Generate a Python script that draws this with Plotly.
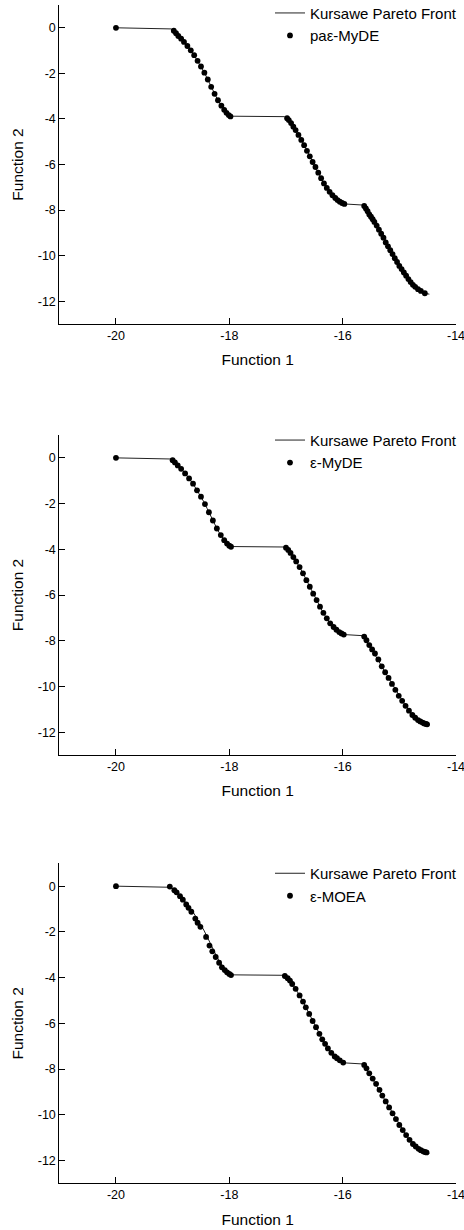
import plotly.graph_objects as go

# Kursawe Pareto front
front_x = [-20.0, -19.02, -18.99, -18.92, -18.85, -18.78, -18.71, -18.64, -18.58, -18.51, -18.45,
           -18.39, -18.33, -18.27, -18.21, -18.15, -18.10, -18.04, -17.97,
           -17.03, -16.98, -16.94, -16.89, -16.83, -16.77, -16.71, -16.65, -16.59, -16.54,
           -16.48, -16.42, -16.36, -16.30, -16.24, -16.18, -16.12, -16.05, -15.98,
           -15.64, -15.59, -15.54, -15.48, -15.42, -15.36, -15.31, -15.25, -15.19, -15.13,
           -15.07, -15.02, -14.96, -14.90, -14.84, -14.77, -14.69, -14.62, -14.54, -14.47]
front_y = [0.0, -0.05, -0.16, -0.30, -0.48, -0.68, -0.90, -1.13, -1.38, -1.65, -1.92,
           -2.22, -2.54, -2.85, -3.14, -3.38, -3.58, -3.76, -3.88,
           -3.90, -3.98, -4.08, -4.27, -4.49, -4.74, -5.00, -5.30, -5.59, -5.85,
           -6.11, -6.41, -6.70, -6.95, -7.17, -7.35, -7.50, -7.64, -7.73,
           -7.78, -7.95, -8.16, -8.38, -8.60, -8.86, -9.12, -9.38, -9.63, -9.89,
           -10.15, -10.37, -10.59, -10.81, -11.03, -11.25, -11.44, -11.56, -11.66, -11.69]

# pa-eps-MyDE solutions
pa_x = [-20.0,
        -18.98, -18.94, -18.90, -18.85, -18.80, -18.74, -18.68, -18.62, -18.56, -18.50,
        -18.44, -18.38, -18.32, -18.26, -18.20, -18.14, -18.09, -18.05, -18.01, -17.98,
        -16.98, -16.95, -16.91, -16.87, -16.83, -16.78, -16.73, -16.68, -16.63, -16.58,
        -16.53, -16.48, -16.43, -16.38, -16.33, -16.28, -16.23, -16.18, -16.13, -16.09,
        -16.05, -16.01, -15.97,
        -15.62, -15.59, -15.56, -15.53, -15.50, -15.47, -15.44, -15.40, -15.36, -15.32,
        -15.28, -15.24, -15.20, -15.16, -15.12, -15.08, -15.04, -15.00, -14.96, -14.92,
        -14.88, -14.84, -14.80, -14.76, -14.72, -14.67, -14.62, -14.55]
pa_y = [0.0,
        -0.13, -0.24, -0.36, -0.48, -0.62, -0.80, -0.99, -1.20, -1.45, -1.70,
        -1.97, -2.27, -2.59, -2.90, -3.18, -3.42, -3.60, -3.73, -3.83, -3.89,
        -3.97, -4.05, -4.18, -4.34, -4.49, -4.70, -4.92, -5.15, -5.40, -5.64,
        -5.89, -6.11, -6.36, -6.60, -6.83, -7.03, -7.20, -7.35, -7.47, -7.56,
        -7.63, -7.69, -7.73,
        -7.82, -7.93, -8.05, -8.19, -8.29, -8.40, -8.52, -8.68, -8.86, -9.04,
        -9.21, -9.42, -9.59, -9.76, -9.93, -10.11, -10.28, -10.45, -10.59, -10.74,
        -10.88, -11.03, -11.16, -11.28, -11.37, -11.47, -11.55, -11.65]

# eps-MyDE solutions
my_x = [-20.0,
        -19.00, -18.96, -18.91, -18.85, -18.78, -18.71, -18.64, -18.57, -18.50, -18.43,
        -18.36, -18.29, -18.22, -18.15, -18.09, -18.04, -18.00, -17.97,
        -17.00, -16.96, -16.92, -16.87, -16.82, -16.76, -16.70, -16.64, -16.58, -16.52,
        -16.46, -16.40, -16.34, -16.28, -16.22, -16.16, -16.11, -16.06, -16.02, -15.98,
        -15.62, -15.58, -15.53, -15.48, -15.43, -15.37, -15.31, -15.25, -15.19, -15.13,
        -15.07, -15.01, -14.95, -14.89, -14.83, -14.77, -14.72, -14.67, -14.63, -14.59,
        -14.56, -14.53, -14.51]
my_y = [0.0,
        -0.10, -0.20, -0.33, -0.48, -0.68, -0.90, -1.13, -1.42, -1.70, -2.02,
        -2.38, -2.74, -3.09, -3.38, -3.60, -3.75, -3.84, -3.89,
        -3.93, -4.03, -4.16, -4.34, -4.53, -4.78, -5.05, -5.35, -5.64, -5.94,
        -6.22, -6.51, -6.78, -7.02, -7.24, -7.40, -7.52, -7.62, -7.68, -7.73,
        -7.82, -7.98, -8.19, -8.38, -8.56, -8.82, -9.12, -9.38, -9.63, -9.89,
        -10.15, -10.41, -10.63, -10.85, -11.06, -11.25, -11.37, -11.47, -11.53, -11.58,
        -11.62, -11.64, -11.66]

# eps-MOEA solutions
mo_x = [-20.0,
        -19.05, -18.97, -18.93, -18.87, -18.82, -18.76, -18.72, -18.67, -18.60, -18.56,
        -18.51, -18.41, -18.35, -18.30, -18.24, -18.18, -18.13, -18.08, -18.04, -18.00, -17.97,
        -17.02, -16.97, -16.93, -16.89, -16.83, -16.76, -16.70, -16.65, -16.59, -16.53,
        -16.47, -16.41, -16.36, -16.31, -16.26, -16.20, -16.14, -16.10, -16.05, -15.99,
        -15.62, -15.58, -15.53, -15.47, -15.41, -15.35, -15.30, -15.24, -15.18, -15.12,
        -15.06, -15.00, -14.94, -14.88, -14.82, -14.76, -14.71, -14.66, -14.62, -14.58,
        -14.55, -14.52]
mo_y = [0.0,
        -0.02, -0.18, -0.27, -0.44, -0.59, -0.80, -0.95, -1.12, -1.42, -1.60,
        -1.78, -2.22, -2.60, -2.85, -3.10, -3.35, -3.55, -3.67, -3.77, -3.84, -3.89,
        -3.93, -4.03, -4.13, -4.28, -4.49, -4.78, -5.05, -5.30, -5.59, -5.90,
        -6.17, -6.46, -6.70, -6.90, -7.10, -7.29, -7.45, -7.53, -7.62, -7.72,
        -7.82, -7.97, -8.19, -8.42, -8.65, -8.91, -9.16, -9.42, -9.68, -9.94,
        -10.19, -10.45, -10.67, -10.89, -11.10, -11.28, -11.39, -11.49, -11.55, -11.60,
        -11.63, -11.65]

panels = [("paε-MyDE", pa_x, pa_y), ("ε-MyDE", my_x, my_y), ("ε-MOEA", mo_x, mo_y)]

x_ticks = [-20, -18, -16, -14]
x_tick_text = ["-20", "-18", "-16", "-14"]
y_ticks = [0, -2, -4, -6, -8, -10, -12]
y_tick_text = ["0", "-2", "-4", "-6", "-8", "-10", "-12"]

H = 1230.0
W = 464.0
y_domains = [(5, 324), (435, 755), (863.3, 1183.3)]
legend_tops = [-3.3, 423.8, 857]
FONT = "Liberation Sans, Arial, sans-serif"

fig = go.Figure()
layout = dict(
    width=464, height=1230, margin=dict(l=0, r=0, t=0, b=0, autoexpand=False),
    paper_bgcolor="white", plot_bgcolor="white",
    font=dict(family=FONT, color="black", size=12),
)

for i, (name, px, py) in enumerate(panels):
    n = "" if i == 0 else str(i + 1)
    leg = "legend" + n
    fig.add_trace(go.Scatter(x=front_x, y=front_y, mode="lines", name="Kursawe Pareto Front",
                             line=dict(color="#222222", width=1), xaxis="x" + n, yaxis="y" + n,
                             legend=leg))
    fig.add_trace(go.Scatter(x=px, y=py, mode="markers", name=name,
                             marker=dict(color="black", size=5.8), xaxis="x" + n, yaxis="y" + n,
                             legend=leg))
    top, bot = y_domains[i]
    axstyle = dict(showline=True, linecolor="black", linewidth=1, ticks="inside", ticklen=6,
                   tickcolor="black", showgrid=False, zeroline=False, automargin=False,
                   ticklabeloverflow="allow",
                   tickfont=dict(size=12.5, family=FONT, color="black"))
    layout["xaxis" + n] = dict(domain=[59.3 / W, 456 / W], range=[-21, -14],
                               tickmode="array", tickvals=x_ticks, ticktext=x_tick_text,
                               anchor="y" + n,
                               title=dict(text="Function 1", font=dict(size=15.5, family=FONT), standoff=12),
                               **axstyle)
    layout["yaxis" + n] = dict(domain=[1 - bot / H, 1 - top / H], range=[-13, 1],
                               tickmode="array", tickvals=y_ticks, ticktext=y_tick_text,
                               anchor="x" + n,
                               title=dict(text="Function 2", font=dict(size=15.5, family=FONT), standoff=10),
                               **axstyle)
    layout[leg] = dict(x=270 / W, xanchor="left", y=1 - legend_tops[i] / H, yanchor="top",
                       bgcolor="rgba(0,0,0,0)", borderwidth=0,
                       font=dict(size=15, family=FONT, color="black"),
                       tracegroupgap=0, itemwidth=30)

fig.update_layout(**layout)
fig.write_html("out.html")
